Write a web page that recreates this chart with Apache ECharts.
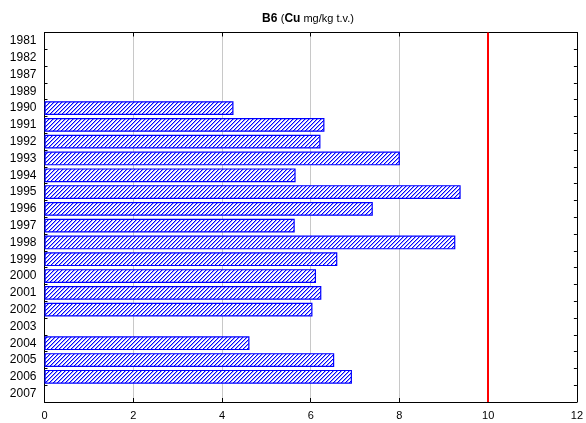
<!DOCTYPE html>
<html>
<head>
<meta charset="utf-8">
<script src="https://cdn.jsdelivr.net/npm/echarts@6/dist/echarts.min.js"></script>
<style>html,body{margin:0;padding:0;background:#fff;}#c{width:586px;height:423px;}</style>
</head>
<body>
<div id="c"></div>
<script>
var years = ['1981','1982','1987','1989','1990','1991','1992','1993','1994','1995','1996','1997','1998','1999','2000','2001','2002','2003','2004','2005','2006','2007'];
var cuValues = [null,null,null,null,4.26,6.31,6.22,8.01,5.66,9.38,7.40,5.64,9.26,6.60,6.12,6.24,6.04,null,4.62,6.53,6.93,null];
var limitValue = 10;
var xTicks = [0,2,4,6,8,10,12];

function hatch() {
  var c = document.createElement('canvas');
  c.width = 4; c.height = 4;
  var g = c.getContext('2d');
  g.fillStyle = '#ffffff'; g.fillRect(0,0,4,4);
  for (var i = 0; i < 4; i++) {
    g.fillStyle = '#a0a0ff';
    g.fillRect(i, (4 - i) % 4, 1, 1);
    g.fillStyle = '#0000ff';
    g.fillRect(i, 3 - i, 1, 1);
  }
  return c;
}

var chart = echarts.init(document.getElementById('c'), null, {renderer:'canvas'});
var font = 'Liberation Sans, Arial, sans-serif';
chart.setOption({
  animation: false,
  backgroundColor: '#fff',
  title: {
    text: '{b|B6} {n|(}{b|Cu}{n| mg/kg t.v.)}',
    left: 303, top: 8, textAlign: 'center',
    textStyle: {
      fontFamily: font, fontSize: 12,
      rich: {
        b: {fontWeight:'bold', fontSize: 12, fontFamily: font, color:'#000'},
        n: {fontWeight:'normal', fontSize: 11, fontFamily: font, color:'#000'}
      }
    }
  },
  grid: {left: 44.5, top: 32.5, right: 7.5, bottom: 21, containLabel:false},
  xAxis: [{
    type: 'value', min: 0, max: 12, interval: 2, position: 'bottom',
    axisLine: {show:true, onZero:false, lineStyle:{color:'#000', width:1}},
    axisTick: {show:true, inside:true, length:4, lineStyle:{color:'#000'}},
    axisLabel: {color:'#000', fontFamily: font, fontSize: 11, margin: 8,
      formatter: function(v){ return xTicks.indexOf(v) >= 0 ? String(v) : ''; }},
    splitLine: {show:true, lineStyle:{color:'#c8c8c8', width:1}}
  },{
    type: 'value', min: 0, max: 12, interval: 2, position: 'top',
    axisLine: {show:true, onZero:false, lineStyle:{color:'#000', width:1}},
    axisTick: {show:true, inside:true, length:4, lineStyle:{color:'#000'}},
    axisLabel: {show:false}, splitLine:{show:false}
  }],
  yAxis: [{
    type: 'category', data: years, inverse: true, position: 'left',
    axisLine: {show:true, onZero:false, lineStyle:{color:'#000', width:1}},
    axisTick: {show:true, inside:true, length:3, lineStyle:{color:'#000'}},
    axisLabel: {color:'#000', fontFamily: font, fontSize: 12, margin: 8},
    splitLine: {show:false}
  },{
    type: 'category', data: years, inverse: true, position: 'right',
    axisLine: {show:true, onZero:false, lineStyle:{color:'#000', width:1}},
    axisTick: {show:true, inside:true, length:3, lineStyle:{color:'#000'}},
    axisLabel: {show:false}, splitLine:{show:false}
  }],
  series: [{
    type: 'bar', xAxisIndex: 0, yAxisIndex: 0,
    data: cuValues,
    barCategoryGap: '18%',
    itemStyle: {color: {image: hatch(), repeat: 'repeat'}, borderColor: '#0000ff', borderWidth: 1.2},
    markLine: {
      silent: true, symbol: ['none','none'], label: {show:false},
      lineStyle: {color:'#ff0000', width: 2, type:'solid'},
      data: [{xAxis: limitValue}]
    }
  }]
});
</script>
</body>
</html>
